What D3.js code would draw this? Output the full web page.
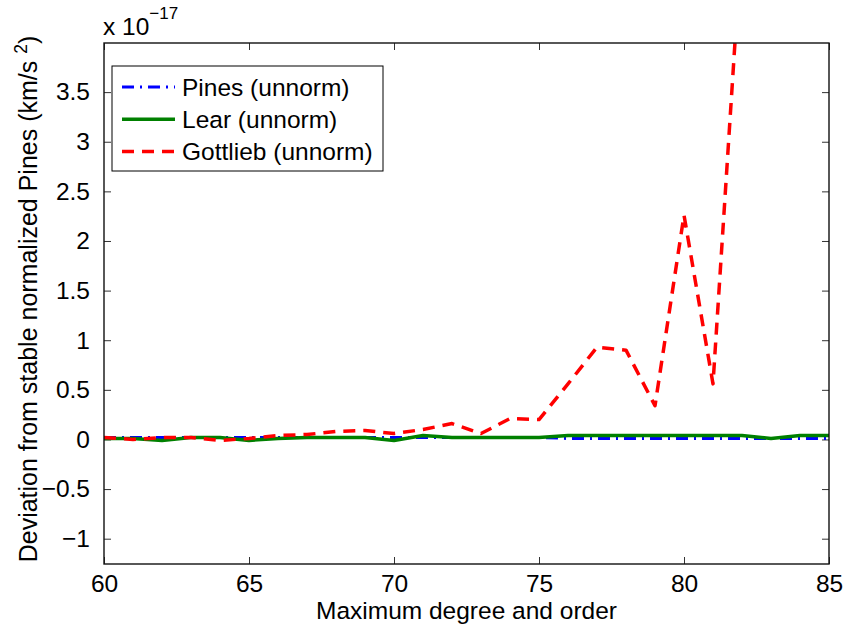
<!DOCTYPE html>
<html>
<head>
<meta charset="utf-8">
<script src="https://cdn.jsdelivr.net/npm/d3@7"></script>
<style>
  body { margin: 0; background: #fff; }
  svg { display: block; }
  text { font-family: "Liberation Sans", Arial, Helvetica, sans-serif; fill: #000; }
</style>
</head>
<body>
<div id="chart"></div>
<script>
// Datos (unidades de 1e-17 km/s^2)
const degrees = d3.range(60, 86);
const pinesVals = [0.02, 0.02, 0.02, 0.02, 0.02, 0.02, 0.02, 0.02, 0.02, 0.02, 0.02, 0.02, 0.02,
  0.02, 0.02, 0.02, 0.01, 0.01, 0.01, 0.01, 0.01, 0.01, 0.01, 0.01, 0.01, 0.01];
const learVals = [0.01, 0.01, -0.01, 0.02, 0.02, -0.01, 0.01, 0.02, 0.02, 0.02, -0.01, 0.04, 0.02,
  0.02, 0.02, 0.02, 0.04, 0.04, 0.04, 0.04, 0.04, 0.04, 0.04, 0.01, 0.04, 0.04];
const gottliebDegrees = d3.range(60, 83);
const gottliebVals = [0.02, 0.0, 0.02, 0.02, -0.01, 0.01, 0.04, 0.05, 0.08, 0.09, 0.06, 0.10, 0.16,
  0.06, 0.21, 0.20, 0.56, 0.93, 0.90, 0.34, 2.26, 0.56, 5.1];

const xTicks = [60, 65, 70, 75, 80, 85];
const yTicks = [-1, -0.5, 0, 0.5, 1, 1.5, 2, 2.5, 3, 3.5];

const series = [
  { name: 'Pines (unnorm)', x: degrees, y: pinesVals, color: '#0000ff', dash: '12,6,2,6', width: 3 },
  { name: 'Lear (unnorm)', x: degrees, y: learVals, color: '#008000', dash: null, width: 3.5 },
  { name: 'Gottlieb (unnorm)', x: gottliebDegrees, y: gottliebVals, color: '#ff0000', dash: '12,8', width: 3.5 }
];

const FS = 24.5;
const W = 846, H = 627;
const margin = { top: 43, right: 17, bottom: 63, left: 104 };
const width = W - margin.left - margin.right,
      height = H - margin.top - margin.bottom;

const svg = d3.select('#chart').append('svg')
  .attr('width', W).attr('height', H);

const g = svg.append('g')
  .attr('transform', 'translate(' + margin.left + ',' + margin.top + ')');

const x = d3.scaleLinear().domain([60, 85]).range([0, width]);
const y = d3.scaleLinear().domain([-1.255, 3.995]).range([height, 0]);

const fmt = function(d) { return d3.format('')(d).replace('-', '\u2212'); };

// Ejes (ticks hacia dentro, en los cuatro lados)
const tickLen = 7;
g.append('g').attr('transform', 'translate(0,' + height + ')')
  .call(d3.axisBottom(x).tickValues(xTicks).tickSizeInner(-tickLen).tickSizeOuter(0).tickPadding(11).tickFormat(fmt))
  .call(function(a) {
    a.select('.domain').remove();
    a.selectAll('text').attr('font-size', FS).style('font-family', null);
  });
g.append('g')
  .call(d3.axisTop(x).tickValues(xTicks).tickSizeInner(-tickLen).tickSizeOuter(0).tickFormat(''))
  .call(function(a) { a.select('.domain').remove(); });
g.append('g')
  .call(d3.axisLeft(y).tickValues(yTicks).tickSizeInner(-tickLen).tickSizeOuter(0).tickPadding(14).tickFormat(fmt))
  .call(function(a) {
    a.select('.domain').remove();
    a.selectAll('text').attr('font-size', FS).style('font-family', null);
  });
g.append('g').attr('transform', 'translate(' + width + ',0)')
  .call(d3.axisRight(y).tickValues(yTicks).tickSizeInner(-tickLen).tickSizeOuter(0).tickFormat(''))
  .call(function(a) { a.select('.domain').remove(); });
g.selectAll('.tick line').attr('stroke', '#333').attr('stroke-width', 1);

// Líneas
g.append('clipPath').attr('id', 'clip')
  .append('rect').attr('width', width).attr('height', height);

const line = d3.line()
  .x(function(d) { return x(d[0]); })
  .y(function(d) { return y(d[1]); });

const plot = g.append('g').attr('clip-path', 'url(#clip)');
series.forEach(function(s) {
  plot.append('path')
    .datum(d3.zip(s.x, s.y))
    .attr('d', line)
    .attr('fill', 'none')
    .attr('stroke', s.color)
    .attr('stroke-width', s.width)
    .attr('stroke-dasharray', s.dash)
    .attr('stroke-linejoin', 'round');
});

// Marco
g.append('rect')
  .attr('width', width).attr('height', height)
  .attr('fill', 'none').attr('stroke', '#111').attr('stroke-width', 1.4);

// Leyenda
const legend = g.append('g').attr('transform', 'translate(8,23)');
legend.append('rect')
  .attr('width', 271).attr('height', 105)
  .attr('fill', '#fff').attr('stroke', '#000').attr('stroke-width', 1);
series.forEach(function(s, i) {
  const ly = 21 + i * 32.3;
  legend.append('line')
    .attr('x1', 10).attr('x2', 63).attr('y1', ly).attr('y2', ly)
    .attr('stroke', s.color).attr('stroke-width', s.width)
    .attr('stroke-dasharray', s.dash);
  legend.append('text')
    .attr('x', 70).attr('y', ly).attr('dy', '0.36em')
    .attr('font-size', FS)
    .text(s.name);
});

// Etiquetas de ejes
svg.append('text')
  .attr('x', margin.left + width / 2).attr('y', 619)
  .attr('text-anchor', 'middle').attr('font-size', FS)
  .text('Maximum degree and order');

const yl = svg.append('text')
  .attr('transform', 'translate(37,299) rotate(-90)')
  .attr('text-anchor', 'middle').attr('font-size', 25);
yl.append('tspan').text('Deviation from stable normalized Pines (km/s ');
yl.append('tspan').attr('dy', -10).attr('font-size', 17.5).text('2');
yl.append('tspan').attr('dy', 10).text(')');

// Multiplicador
const mult = svg.append('text').attr('x', 103).attr('y', 35).attr('font-size', FS);
mult.append('tspan').text('x 10');
mult.append('tspan').attr('dy', -16).attr('font-size', 17).text('\u221217');
</script>
</body>
</html>
